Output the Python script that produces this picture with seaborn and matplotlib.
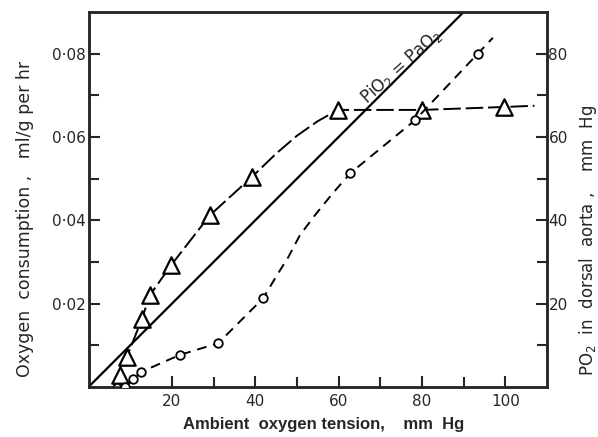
import numpy as np
import matplotlib
matplotlib.use("Agg")
import matplotlib.pyplot as plt
import seaborn as sns

# consumo de oxigeno (triangulos), eje izquierdo, ml/g por hr
tri_x = [6.8, 7.5, 9.2, 12.8, 14.7, 19.8, 29.1, 39.3, 59.8, 80.0, 99.6]
tri_y = [0.0, 0.0029, 0.0072, 0.0163, 0.022, 0.0292, 0.0412, 0.0505, 0.0665, 0.0665, 0.0672]
# recorrido de la curva dibujada a mano
tri_curve_x = [6.8, 7.5, 9.2, 12.8, 14.7, 19.8, 29.1, 39.3, 45.0, 50.0, 55.0, 59.8, 80.0, 99.6, 107.0]
tri_curve_y = [0.0, 0.0029, 0.0072, 0.0163, 0.022, 0.0292, 0.0412, 0.0505, 0.056, 0.0603, 0.0638, 0.0665, 0.0665, 0.0672, 0.0675]

# PO2 en aorta dorsal (circulos), eje derecho, mm Hg
circ_x = [8.7, 10.7, 12.6, 21.9, 31.1, 41.9, 62.8, 78.3, 93.4]
circ_y = [0.0, 1.9, 3.6, 7.7, 10.5, 21.3, 51.3, 64.0, 80.0]
circ_curve_x = [8.7, 10.7, 12.6, 21.9, 31.1, 41.9, 45.5, 47.9, 50.7, 54.3, 58.6, 62.8, 78.3, 93.4, 97.0]
circ_curve_y = [0.0, 1.9, 3.6, 7.7, 10.5, 21.3, 27.3, 31.1, 36.4, 41.2, 46.5, 51.3, 64.0, 80.0, 83.8]

# linea PiO2 = PaO2
iso_x = [0, 95]
iso_y = [0, 95]

xticks = [20, 40, 60, 80, 100]
xminor = [30, 50, 70, 90]
yticks = [0.02, 0.04, 0.06, 0.08]
ylabels = ["0·02", "0·04", "0·06", "0·08"]
yminor = [0.01, 0.03, 0.05, 0.07]
y2ticks = [20, 40, 60, 80]
y2minor = [10, 30, 50, 70]

sns.set_style("ticks")
plt.rcParams['font.family'] = ['DejaVu Sans']

fig = plt.figure(figsize=(5.98, 4.37), dpi=100)
ax = fig.add_axes([88.5/598, 1-387/437, (547-88.5)/598, (387-12)/437])
ax2 = ax.twinx()

sns.lineplot(x=tri_curve_x, y=tri_curve_y, ax=ax, sort=False, estimator=None,
             color="black", linewidth=1.4, linestyle=(0, (9, 2.5)))
sns.scatterplot(x=tri_x, y=tri_y, ax=ax, marker="^", s=140, facecolor="white",
                edgecolor="black", linewidth=1.6, zorder=3)

sns.lineplot(x=iso_x, y=iso_y, ax=ax2, sort=False, estimator=None, color="black", linewidth=1.6)
sns.lineplot(x=circ_curve_x, y=circ_curve_y, ax=ax2, sort=False, estimator=None,
             color="black", linewidth=1.4, linestyle=(0, (5, 3.5)))
sns.scatterplot(x=circ_x, y=circ_y, ax=ax2, marker="o", s=38, facecolor="white",
                edgecolor="black", linewidth=1.3, zorder=3)

ax.set_xlim(0, 110)
ax.set_ylim(0, 0.09)
ax2.set_ylim(0, 90)

ax.set_xticks(xticks)
ax.set_xticks(xminor, minor=True)
ax.set_yticks(yticks)
ax.set_yticklabels(ylabels)
ax.set_yticks(yminor, minor=True)
ax2.set_yticks(y2ticks)
ax2.set_yticks(y2minor, minor=True)

for a in (ax, ax2):
    a.tick_params(which="both", direction="in", width=1.5, labelsize=11, pad=2)
    a.tick_params(which="major", length=8)
    a.tick_params(which="minor", length=7)
    for s in a.spines.values():
        s.set_linewidth(1.8)
ax.tick_params(axis="x", pad=5)
ax2.tick_params(axis="y", pad=1)

ax.set_xlabel("Ambient  oxygen tension,    mm  Hg", fontsize=12, fontweight="bold",
              family=["Liberation Sans", "DejaVu Sans"], va="center", ha="center")
ax.xaxis.set_label_coords((324-88.5)/458.5, (387-424)/375)
ax.set_ylabel("Oxygen  consumption ,   ml/g per hr", fontsize=12.5, va="center", ha="center")
ax.yaxis.set_label_coords((25-88.5)/458.5, (387-219)/375)
ax2.set_ylabel("PO$_2$  in  dorsal  aorta ,    mm  Hg", fontsize=12, rotation=90,
               va="center", ha="center")
ax2.yaxis.set_label_coords((588-88.5)/458.5, (387-240)/375)

ax2.text(75, 77, "PiO$_2$ = PaO$_2$", rotation=42, fontsize=12, ha="center", va="center",
         rotation_mode="anchor")

fig.savefig("out.png", dpi=100)
